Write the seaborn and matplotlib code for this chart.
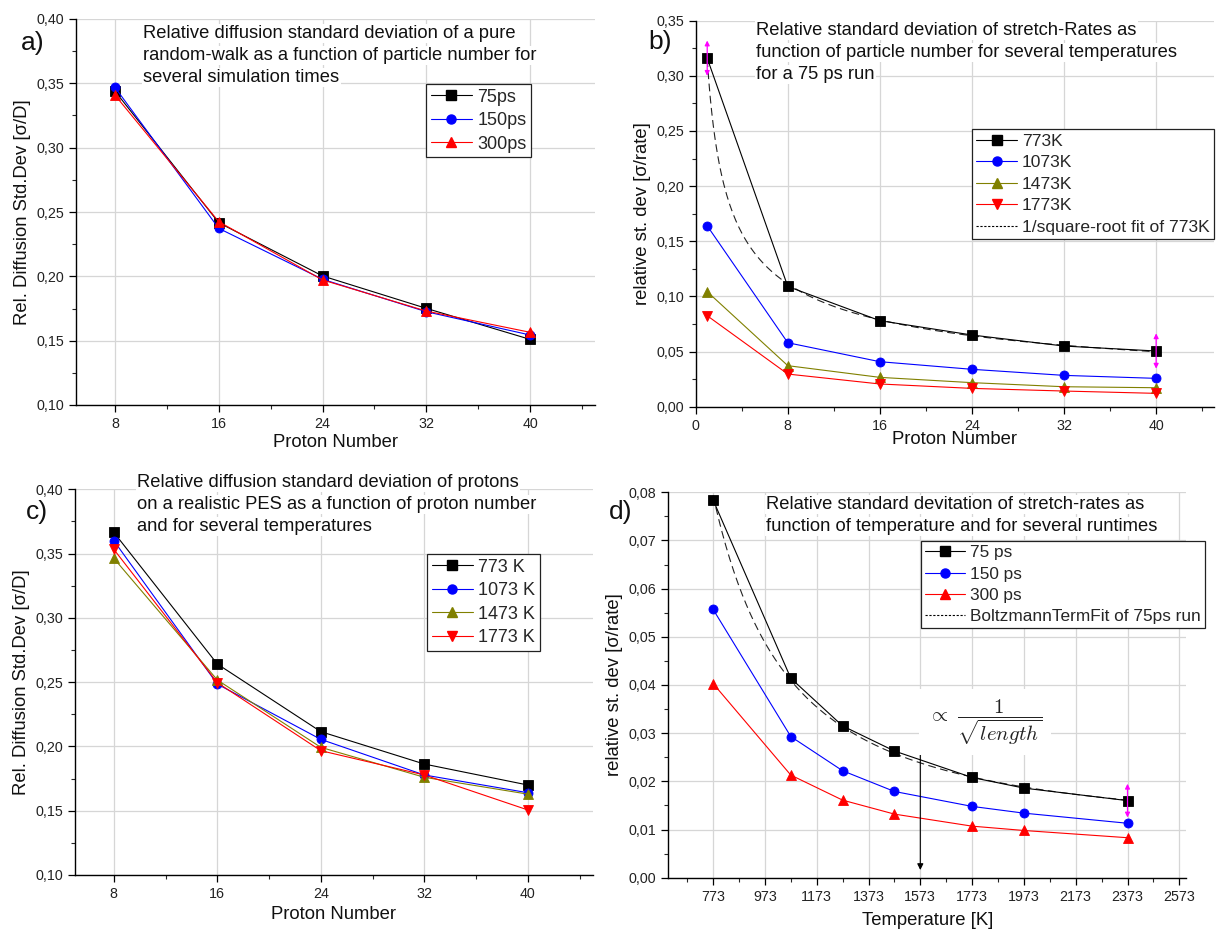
import numpy as np
import matplotlib
matplotlib.use("Agg")
import matplotlib.pyplot as plt
from matplotlib.lines import Line2D
from matplotlib.ticker import FuncFormatter, FixedLocator, MultipleLocator
import seaborn as sns

# ---------------- data ----------------
proton_a = [8, 16, 24, 32, 40]
a_75 = [0.344, 0.2417, 0.2003, 0.1751, 0.1510]
a_150 = [0.3469, 0.2373, 0.1977, 0.1725, 0.1544]
a_300 = [0.3409, 0.2425, 0.1972, 0.1730, 0.1565]
a_labels = ["75ps", "150ps", "300ps"]

proton_b = [1, 8, 16, 24, 32, 40]
b_773 = [0.316, 0.109, 0.078, 0.065, 0.055, 0.0505]
b_1073 = [0.164, 0.058, 0.0408, 0.0339, 0.0284, 0.0257]
b_1473 = [0.1043, 0.0372, 0.0266, 0.0218, 0.0181, 0.0172]
b_1773 = [0.0825, 0.0296, 0.0206, 0.0166, 0.0142, 0.0121]
b_labels = ["773K", "1073K", "1473K", "1773K", "1/square-root fit of 773K"]
b_err_x = [1, 40]
b_err = [0.016, 0.016]

proton_c = [8, 16, 24, 32, 40]
c_773 = [0.3665, 0.2641, 0.2115, 0.1863, 0.1700]
c_1073 = [0.3600, 0.2485, 0.2055, 0.1778, 0.1640]
c_1473 = [0.3463, 0.2517, 0.1993, 0.1760, 0.1629]
c_1773 = [0.3533, 0.2496, 0.1967, 0.1778, 0.1506]
c_labels = ["773 K", "1073 K", "1473 K", "1773 K"]

temp_d = [773, 1073, 1273, 1473, 1773, 1973, 2373]
d_75 = [0.0784, 0.0414, 0.0315, 0.0263, 0.0208, 0.0186, 0.0160]
d_150 = [0.0557, 0.0293, 0.0222, 0.0179, 0.0148, 0.0134, 0.0113]
d_300 = [0.0403, 0.0213, 0.0161, 0.0132, 0.0107, 0.0098, 0.0083]
d_labels = ["75 ps", "150 ps", "300 ps", "BoltzmannTermFit of 75ps run"]
d_err_x = [773, 2373]
d_err = [0.0036, 0.0035]
d_arrow_x = 1573
d_arrow_y = [0.0296, 0.0016]

title_a = ["Relative diffusion standard deviation of a pure",
           "random-walk as a function of particle number for",
           "several simulation times"]
title_b = ["Relative standard deviation of stretch-Rates as",
           "function of particle number for several temperatures",
           "for a 75 ps run"]
title_c = ["Relative diffusion standard deviation of protons",
           "on a realistic PES as a function of proton number",
           "and for several temperatures"]
title_d = ["Relative standard devitation of stretch-rates as",
           "function of temperature and for several runtimes"]

# ---------------- style ----------------
sns.set_style("white")
plt.rcParams["font.family"] = ["Liberation Sans", "DejaVu Sans"]
plt.rcParams["mathtext.fontset"] = "cm"

W, H = 1220, 932
fig = plt.figure(figsize=(W / 100, H / 100), dpi=100)

BLACK, BLUE, OLIVE, RED = "#000000", "#0000ff", "#808000", "#ff0000"
GRID = "#d6d6d6"
comma = FuncFormatter(lambda v, p: f"{v:.2f}".replace(".", ","))


def px_axes(l, t, r, b):
    return fig.add_axes([l / W, 1 - b / H, (r - l) / W, (b - t) / H])


def style_axes(ax):
    for s in ["top", "right"]:
        ax.spines[s].set_visible(False)
    for s in ["left", "bottom"]:
        ax.spines[s].set_color("black")
        ax.spines[s].set_linewidth(1.0)
    ax.tick_params(which="major", direction="out", length=5, width=0.9,
                   labelsize=10.3, pad=3.5, colors="black", labelcolor="#222222",
                   left=True, bottom=True)
    ax.tick_params(which="minor", direction="out", length=3, width=0.8,
                   left=True, bottom=True)
    ax.grid(True, which="major", color=GRID, linewidth=0.9)
    ax.set_axisbelow(True)
    ax.yaxis.set_major_formatter(comma)


def series(ax, x, y, color, marker, ms=6.5):
    sns.lineplot(x=x, y=y, ax=ax, color=color, marker=marker, markersize=ms,
                 markeredgecolor=color, markeredgewidth=0.6, linewidth=0.8,
                 legend=False)


def handle(color, marker, ms=6.5):
    return Line2D([], [], color=color, marker=marker, markersize=ms,
                  markeredgecolor=color, linewidth=0.8)


fit_handle = Line2D([], [], color="black", linestyle=(0, (2, 1.5)), linewidth=0.8)


def make_legend(ax, handles, labels, x_px, y_px, fs=13.0):
    leg = ax.legend(handles, labels, loc="upper left",
                    bbox_to_anchor=(x_px / W, 1 - y_px / H),
                    bbox_transform=fig.transFigure, borderaxespad=0,
                    prop={"size": fs}, frameon=True, fancybox=False, framealpha=1,
                    edgecolor="#222222", borderpad=0.25, labelspacing=0.36,
                    handlelength=2.3, handletextpad=0.3)
    leg.get_frame().set_linewidth(0.9)
    return leg


def panel_text(lines, x_px, base_px, fs=13.2, step=22):
    for i, line in enumerate(lines):
        fig.text(x_px / W, 1 - (base_px + step * i) / H, line, fontsize=fs,
                 ha="left", va="baseline", color="#111111", zorder=5,
                 bbox=dict(facecolor="white", edgecolor="none", pad=1.0))


def magenta_err(ax, xs, ys, errs):
    for x, y, e in zip(xs, ys, errs):
        ax.annotate("", xy=(x, y + e), xytext=(x, y - e),
                    arrowprops=dict(arrowstyle="<|-|>", color="#ff00ff",
                                    lw=0.9, mutation_scale=7,
                                    shrinkA=0, shrinkB=0), zorder=6)


# ---------------- panel a ----------------
ax = px_axes(76, 19, 595, 405)
series(ax, proton_a, a_75, BLACK, "s")
series(ax, proton_a, a_150, BLUE, "o")
series(ax, proton_a, a_300, RED, "^")
ax.set_xlim(5, 45)
ax.set_ylim(0.10, 0.40)
ax.xaxis.set_major_locator(FixedLocator(proton_a))
ax.xaxis.set_minor_locator(MultipleLocator(4))
ax.yaxis.set_major_locator(MultipleLocator(0.05))
ax.yaxis.set_minor_locator(MultipleLocator(0.025))
style_axes(ax)
ax.set_xlabel("Proton Number", fontsize=13.3, labelpad=2, color="#111111")
ax.set_ylabel("Rel. Diffusion Std.Dev [σ/D]", fontsize=13.3, labelpad=4, color="#111111")
make_legend(ax, [handle(BLACK, "s"), handle(BLUE, "o"), handle(RED, "^")],
            a_labels, 426, 84)

# ---------------- panel b ----------------
ax = px_axes(695.7, 20.7, 1213.7, 406.7)
xb = np.array(proton_b, dtype=float)
yb = np.array(b_773)
coef_b = np.sum(yb / np.sqrt(xb)) / np.sum(1.0 / xb)
xfit = np.linspace(min(proton_b), max(proton_b), 300)
ax.plot(xfit, coef_b / np.sqrt(xfit), color="#222222", linestyle=(0, (7, 4)),
        linewidth=0.8, zorder=2)
series(ax, proton_b, b_773, BLACK, "s")
series(ax, proton_b, b_1073, BLUE, "o")
series(ax, proton_b, b_1473, OLIVE, "^")
series(ax, proton_b, b_1773, RED, "v")
magenta_err(ax, b_err_x, [b_773[0], b_773[-1]], b_err)
ax.set_xlim(0, 45)
ax.set_ylim(0, 0.35)
ax.xaxis.set_major_locator(FixedLocator([0, 8, 16, 24, 32, 40]))
ax.xaxis.set_minor_locator(MultipleLocator(4))
ax.yaxis.set_major_locator(MultipleLocator(0.05))
ax.yaxis.set_minor_locator(MultipleLocator(0.025))
style_axes(ax)
ax.set_xlabel("Proton Number", fontsize=13.3, labelpad=-1, color="#111111")
ax.set_ylabel("relative st. dev [σ/rate]", fontsize=13.3, labelpad=4, color="#111111")
make_legend(ax, [handle(BLACK, "s"), handle(BLUE, "o"), handle(OLIVE, "^"),
                 handle(RED, "v"), fit_handle], b_labels, 972, 129, fs=12.6)

# ---------------- panel c ----------------
ax = px_axes(75, 489.3, 592.5, 875)
series(ax, proton_c, c_773, BLACK, "s")
series(ax, proton_c, c_1073, BLUE, "o")
series(ax, proton_c, c_1473, OLIVE, "^")
series(ax, proton_c, c_1773, RED, "v")
ax.set_xlim(5, 45)
ax.set_ylim(0.10, 0.40)
ax.xaxis.set_major_locator(FixedLocator(proton_c))
ax.xaxis.set_minor_locator(MultipleLocator(4))
ax.yaxis.set_major_locator(MultipleLocator(0.05))
ax.yaxis.set_minor_locator(MultipleLocator(0.025))
style_axes(ax)
ax.set_xlabel("Proton Number", fontsize=13.3, labelpad=3.5, color="#111111")
ax.set_ylabel("Rel. Diffusion Std.Dev [σ/D]", fontsize=13.3, labelpad=4, color="#111111")
make_legend(ax, [handle(BLACK, "s"), handle(BLUE, "o"), handle(OLIVE, "^"),
                 handle(RED, "v")], c_labels, 427, 554)

# ---------------- panel d ----------------
ax = px_axes(668.3, 492.3, 1186.3, 877.7)
td = np.array(temp_d, dtype=float)
p = np.polyfit(1.0 / td, np.log(np.array(d_75)), 1)
tfit = np.linspace(min(temp_d), max(temp_d), 300)
ax.plot(tfit, np.exp(np.polyval(p, 1.0 / tfit)), color="#222222",
        linestyle=(0, (7, 4)), linewidth=0.8, zorder=2)
series(ax, temp_d, d_75, BLACK, "s")
series(ax, temp_d, d_150, BLUE, "o")
series(ax, temp_d, d_300, RED, "^")
magenta_err(ax, d_err_x, [d_75[0], d_75[-1]], d_err)
ax.annotate("", xy=(d_arrow_x, d_arrow_y[1]), xytext=(d_arrow_x, d_arrow_y[0]),
            arrowprops=dict(arrowstyle="-|>", color="black", lw=0.8,
                            mutation_scale=9, shrinkA=0, shrinkB=0), zorder=6)
ax.set_xlim(600, 2600)
ax.set_ylim(0, 0.08)
ax.xaxis.set_major_locator(FixedLocator(list(range(773, 2574, 200))))
ax.xaxis.set_minor_locator(FixedLocator(list(range(673, 2600, 200))))
ax.yaxis.set_major_locator(MultipleLocator(0.01))
ax.yaxis.set_minor_locator(MultipleLocator(0.005))
style_axes(ax)
ax.set_xlabel("Temperature [K]", fontsize=13.3, labelpad=6, color="#111111")
ax.set_ylabel("relative st. dev [σ/rate]", fontsize=13.3, labelpad=4, color="#111111")
make_legend(ax, [handle(BLACK, "s"), handle(BLUE, "o"), handle(RED, "^"),
                 fit_handle], d_labels, 921, 541, fs=12.4)
fig.text(985 / W, 1 - 722 / H, r"$\propto\ \dfrac{1}{\sqrt{length}}$",
         fontsize=15, ha="center", va="center", color="#222222", zorder=5,
         bbox=dict(facecolor="white", edgecolor="none", pad=6))

# ---------------- panel texts ----------------
panel_text(title_a, 143, 38)
panel_text(title_b, 756, 35)
panel_text(title_c, 137, 487)
panel_text(title_d, 766, 509)

for lab, x_px, y_px in [("a)", 21, 43), ("b)", 648, 42), ("c)", 26, 512), ("d)", 609, 512)]:
    fig.text(x_px / W, 1 - y_px / H, lab, fontsize=19, ha="left", va="center",
             color="#111111")

fig.savefig("out.png", dpi=100)
